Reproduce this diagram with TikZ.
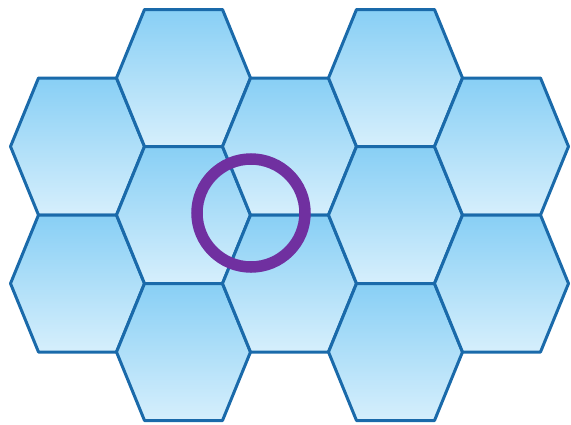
\documentclass[tikz,border=0pt]{standalone}
\usetikzlibrary{calc}
\definecolor{hexline}{RGB}{26,106,170}
\definecolor{hextop}{RGB}{136,207,245}
\definecolor{hexbot}{RGB}{214,239,252}
\definecolor{ringpurple}{RGB}{112,48,160}

\begin{document}
\begin{tikzpicture}[x=1pt, y=-1pt,
    hexcell/.style={draw=hexline, line width=3pt, line join=round, top color=hextop, bottom color=hexbot}]
  % canvas 571 x 424 px, y grows downwards
  \useasboundingbox (0,0) rectangle (571,424);

  % Honeycomb: columns 106 apart, cells 137 high
  \foreach \cx/\cy in {77.5/146.5, 77.5/283.5,
                       183.5/78, 183.5/215, 183.5/352,
                       289.5/146.5, 289.5/283.5,
                       395.5/78, 395.5/215, 395.5/352,
                       501.5/146.5, 501.5/283.5} {
    \draw[hexcell] (\cx-67,\cy) -- ++(28,-68.5) -- ++(78,0) -- ++(28,68.5)
      -- ++(-28,68.5) -- ++(-78,0) -- cycle;
  }

  % Ring round the junction of three cells
  \draw[ringpurple, line width=11.5pt] (251,213) circle (54pt);
\end{tikzpicture}
\end{document}
